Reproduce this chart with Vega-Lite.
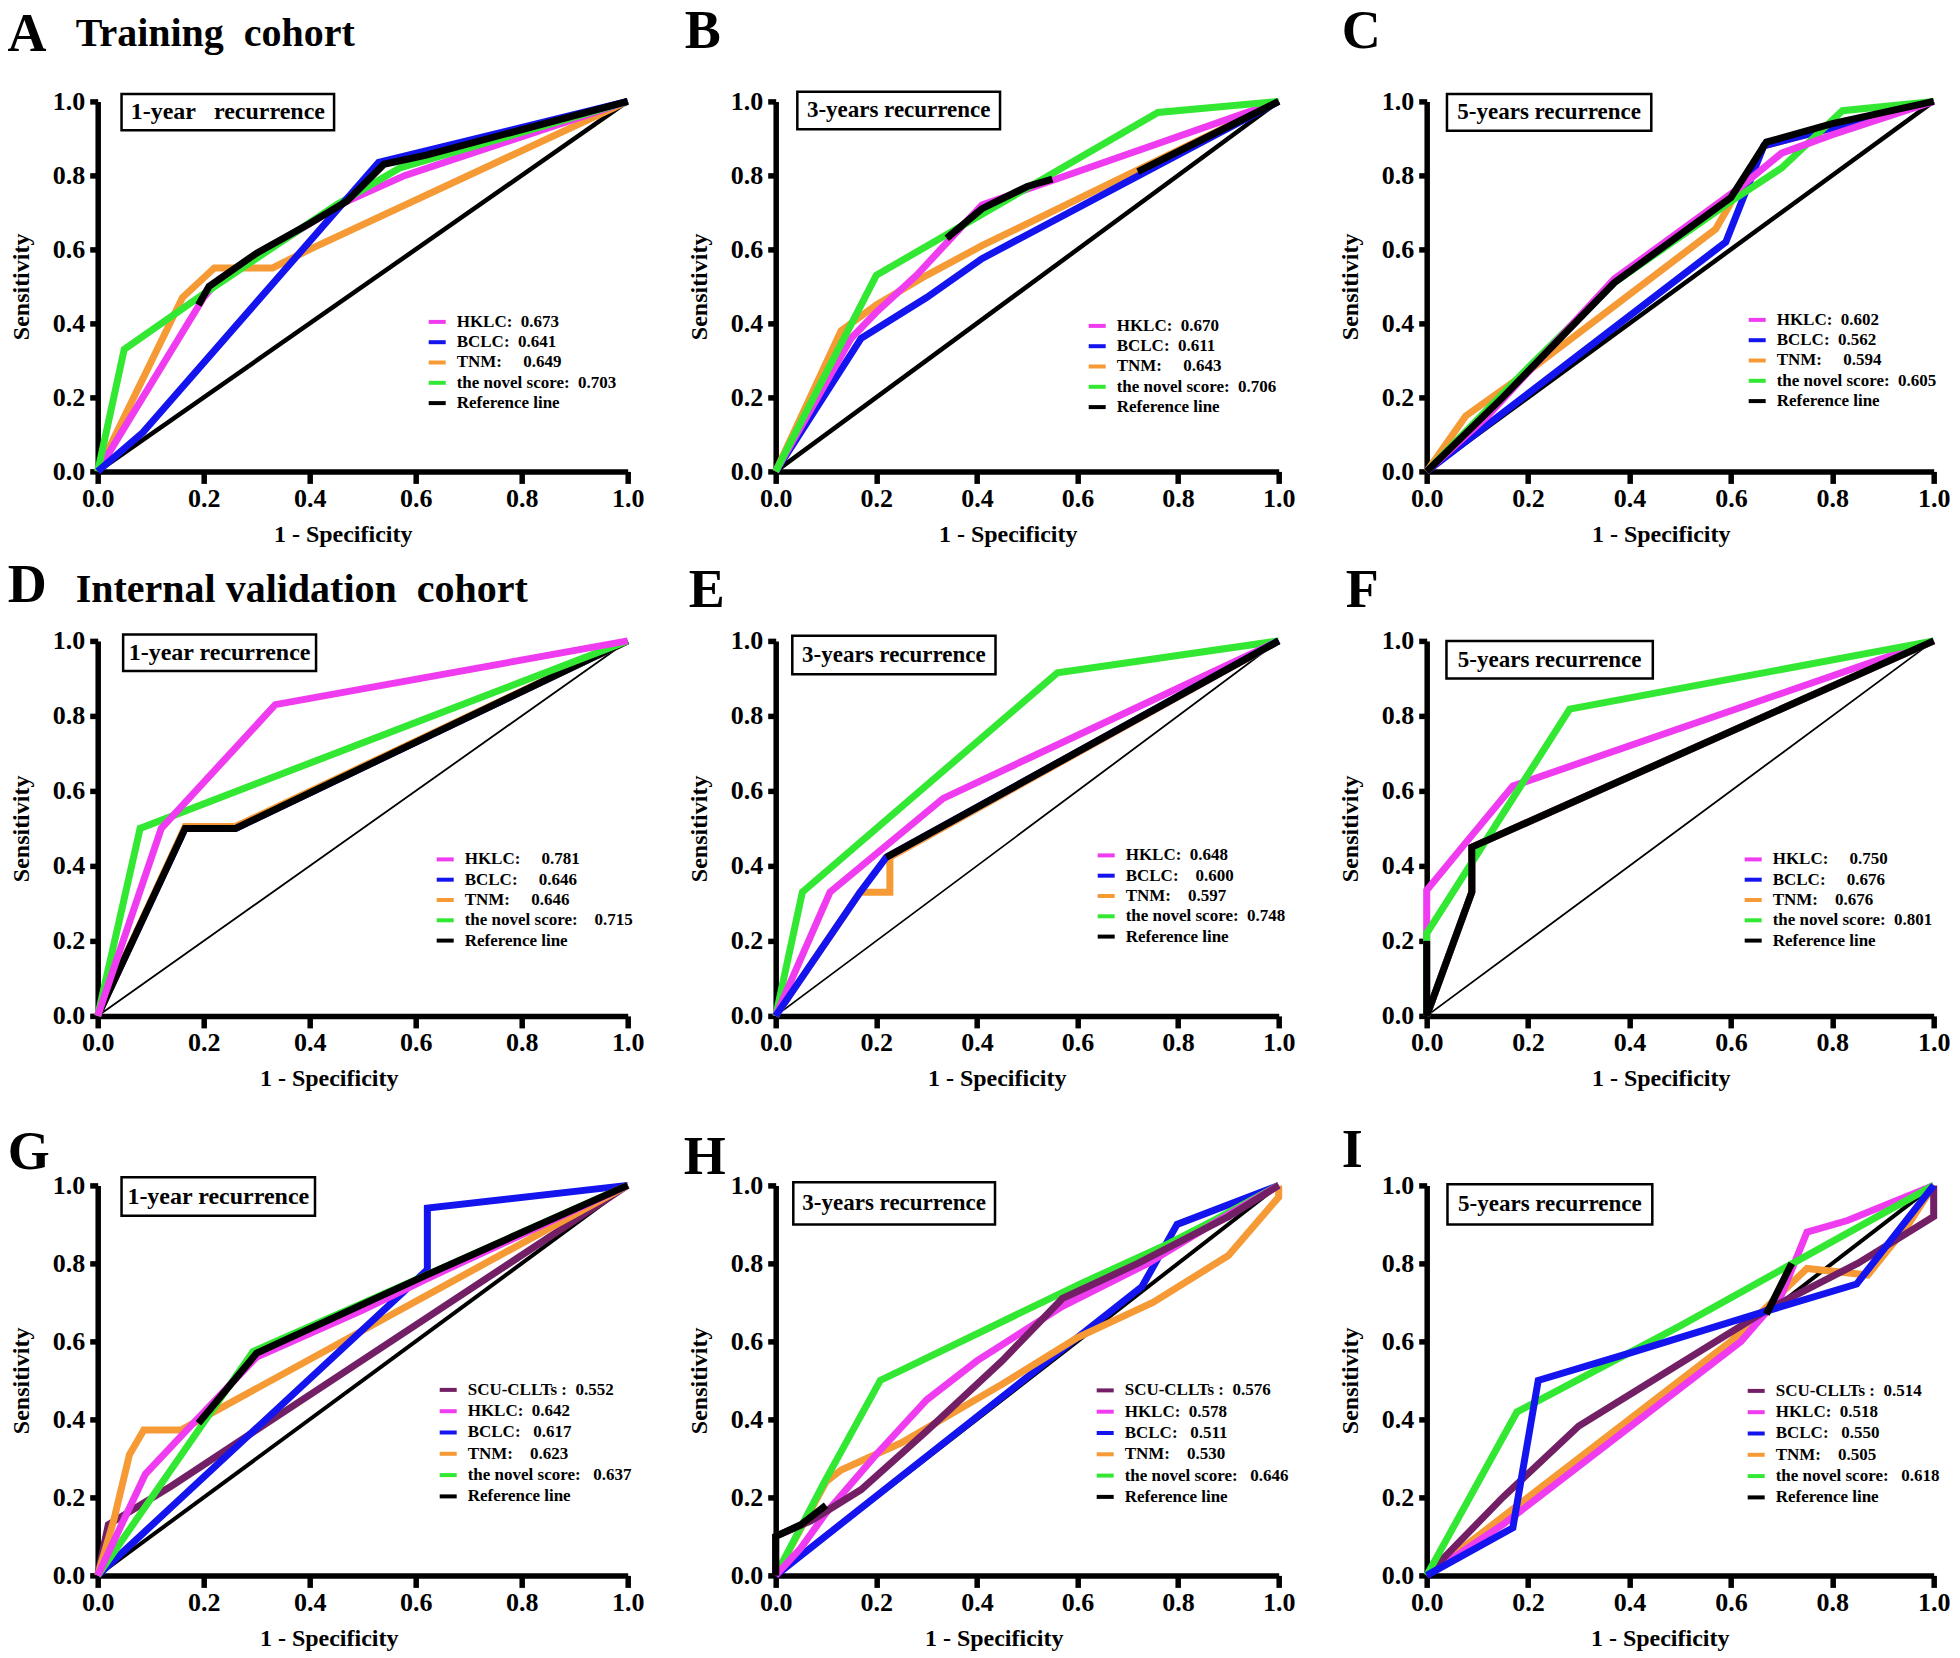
{
"$schema":"https://vega.github.io/schema/vega-lite/v6.json",
"background":"white",
"padding":{"left":6.7,"top":5.4,"right":2,"bottom":2},
"config":{
 "font":"Liberation Serif",
 "view":{"stroke":null},
 "axis":{"grid":false,"domainColor":"black","domainWidth":5.5,"tickColor":"black","tickWidth":5.5,"tickSize":12,"labelFont":"Liberation Serif","labelFontWeight":"bold","labelFontSize":26,"labelColor":"black","labelFlush":false,"labelOverlap":false,"titleFont":"Liberation Serif","titleFontWeight":"bold","titleFontSize":24,"titleColor":"black"},
 "axisX":{"labelPadding":2,"titlePadding":11},
 "axisY":{"tickSize":8,"labelPadding":5,"titlePadding":18.5},
 "legend":{"symbolType":"stroke","symbolStrokeWidth":4,"symbolSize":289,"labelFont":"Liberation Serif","labelFontWeight":"bold","labelFontSize":17,"labelColor":"black","labelLimit":500,"labelOffset":9,"padding":0,"rowPadding":1.3}
},
"data":{"values":[
{"p":"A","c":"T","x":0,"y":0},{"p":"A","c":"T","x":0.16,"y":0.47},{"p":"A","c":"T","x":0.22,"y":0.55},{"p":"A","c":"T","x":0.33,"y":0.55},{"p":"A","c":"T","x":0.4,"y":0.6},{"p":"A","c":"T","x":1,"y":1},
{"p":"A","c":"H","x":0,"y":0},{"p":"A","c":"H","x":0.2,"y":0.47},{"p":"A","c":"H","x":0.23,"y":0.52},{"p":"A","c":"H","x":0.3,"y":0.58},{"p":"A","c":"H","x":0.4,"y":0.67},{"p":"A","c":"H","x":0.47,"y":0.73},{"p":"A","c":"H","x":0.58,"y":0.8},{"p":"A","c":"H","x":1,"y":1},
{"p":"A","c":"N","x":0,"y":0},{"p":"A","c":"N","x":0.05,"y":0.33},{"p":"A","c":"N","x":0.2,"y":0.48},{"p":"A","c":"N","x":0.45,"y":0.72},{"p":"A","c":"N","x":0.57,"y":0.82},{"p":"A","c":"N","x":1,"y":1},
{"p":"A","c":"B","x":0,"y":0},{"p":"A","c":"B","x":0.085,"y":0.105},{"p":"A","c":"B","x":0.53,"y":0.835},{"p":"A","c":"B","x":1,"y":1},
{"p":"A","c":"R","k":"1","x":0.19,"y":0.45},{"p":"A","c":"R","k":"1","x":0.21,"y":0.5},{"p":"A","c":"R","k":"1","x":0.3,"y":0.59},{"p":"A","c":"R","k":"1","x":0.4,"y":0.67},{"p":"A","c":"R","k":"1","x":0.47,"y":0.73},{"p":"A","c":"R","k":"1","x":0.54,"y":0.83},{"p":"A","c":"R","k":"1","x":0.62,"y":0.855},{"p":"A","c":"R","k":"1","x":1,"y":1},
{"p":"A","c":"R","k":"D","x":0,"y":0},{"p":"A","c":"R","k":"D","x":1,"y":1},
{"p":"B","c":"T","x":0,"y":0},{"p":"B","c":"T","x":0.13,"y":0.38},{"p":"B","c":"T","x":0.2,"y":0.45},{"p":"B","c":"T","x":0.3,"y":0.53},{"p":"B","c":"T","x":0.41,"y":0.61},{"p":"B","c":"T","x":1,"y":1},
{"p":"B","c":"B","x":0,"y":0},{"p":"B","c":"B","x":0.17,"y":0.36},{"p":"B","c":"B","x":0.3,"y":0.47},{"p":"B","c":"B","x":0.41,"y":0.575},{"p":"B","c":"B","x":1,"y":1},
{"p":"B","c":"H","x":0,"y":0},{"p":"B","c":"H","x":0.15,"y":0.36},{"p":"B","c":"H","x":0.2,"y":0.43},{"p":"B","c":"H","x":0.28,"y":0.53},{"p":"B","c":"H","x":0.41,"y":0.72},{"p":"B","c":"H","x":1,"y":1},
{"p":"B","c":"N","x":0,"y":0},{"p":"B","c":"N","x":0.2,"y":0.53},{"p":"B","c":"N","x":0.76,"y":0.97},{"p":"B","c":"N","x":1,"y":1},
{"p":"B","c":"R","k":"1","x":0.34,"y":0.63},{"p":"B","c":"R","k":"1","x":0.41,"y":0.71},{"p":"B","c":"R","k":"1","x":0.5,"y":0.77},{"p":"B","c":"R","k":"1","x":0.55,"y":0.79},
{"p":"B","c":"R","k":"2","x":0.72,"y":0.81},{"p":"B","c":"R","k":"2","x":1,"y":1},
{"p":"B","c":"R","k":"D","x":0,"y":0},{"p":"B","c":"R","k":"D","x":1,"y":1},
{"p":"C","c":"T","x":0,"y":0},{"p":"C","c":"T","x":0.077,"y":0.15},{"p":"C","c":"T","x":0.2,"y":0.27},{"p":"C","c":"T","x":0.57,"y":0.655},{"p":"C","c":"T","x":0.665,"y":0.88},{"p":"C","c":"T","x":1,"y":1},
{"p":"C","c":"B","x":0,"y":0},{"p":"C","c":"B","x":0.59,"y":0.62},{"p":"C","c":"B","x":0.665,"y":0.88},{"p":"C","c":"B","x":1,"y":1},
{"p":"C","c":"N","x":0,"y":0},{"p":"C","c":"N","x":0.2,"y":0.28},{"p":"C","c":"N","x":0.37,"y":0.51},{"p":"C","c":"N","x":0.6,"y":0.73},{"p":"C","c":"N","x":0.7,"y":0.82},{"p":"C","c":"N","x":0.82,"y":0.975},{"p":"C","c":"N","x":1,"y":1},
{"p":"C","c":"H","x":0,"y":0},{"p":"C","c":"H","x":0.12,"y":0.15},{"p":"C","c":"H","x":0.37,"y":0.52},{"p":"C","c":"H","x":0.62,"y":0.77},{"p":"C","c":"H","x":0.7,"y":0.86},{"p":"C","c":"H","x":0.8,"y":0.91},{"p":"C","c":"H","x":1,"y":1},
{"p":"C","c":"R","k":"1","x":0,"y":0},{"p":"C","c":"R","k":"1","x":0.15,"y":0.2},{"p":"C","c":"R","k":"1","x":0.37,"y":0.51},{"p":"C","c":"R","k":"1","x":0.6,"y":0.74},{"p":"C","c":"R","k":"1","x":0.67,"y":0.89},{"p":"C","c":"R","k":"1","x":0.8,"y":0.94},{"p":"C","c":"R","k":"1","x":1,"y":1},
{"p":"C","c":"R","k":"D","x":0,"y":0},{"p":"C","c":"R","k":"D","x":1,"y":1},
{"p":"D","c":"B","x":0,"y":0},{"p":"D","c":"B","x":0.165,"y":0.5},{"p":"D","c":"B","x":0.26,"y":0.5},{"p":"D","c":"B","x":1,"y":1},
{"p":"D","c":"T","x":0,"y":0},{"p":"D","c":"T","x":0.165,"y":0.505},{"p":"D","c":"T","x":0.26,"y":0.505},{"p":"D","c":"T","x":1,"y":1},
{"p":"D","c":"R","k":"1","x":0,"y":0},{"p":"D","c":"R","k":"1","x":0.165,"y":0.5},{"p":"D","c":"R","k":"1","x":0.26,"y":0.5},{"p":"D","c":"R","k":"1","x":1,"y":1},
{"p":"D","c":"N","x":0,"y":0},{"p":"D","c":"N","x":0.08,"y":0.5},{"p":"D","c":"N","x":1,"y":1},
{"p":"D","c":"H","x":0,"y":0},{"p":"D","c":"H","x":0.12,"y":0.5},{"p":"D","c":"H","x":0.335,"y":0.83},{"p":"D","c":"H","x":1,"y":1},
{"p":"D","c":"R","k":"D","x":0,"y":0},{"p":"D","c":"R","k":"D","x":1,"y":1},
{"p":"E","c":"T","x":0,"y":0},{"p":"E","c":"T","x":0.168,"y":0.33},{"p":"E","c":"T","x":0.227,"y":0.33},{"p":"E","c":"T","x":0.227,"y":0.423},{"p":"E","c":"T","x":1,"y":1},
{"p":"E","c":"N","x":0,"y":0},{"p":"E","c":"N","x":0.053,"y":0.33},{"p":"E","c":"N","x":0.56,"y":0.915},{"p":"E","c":"N","x":1,"y":1},
{"p":"E","c":"H","x":0,"y":0},{"p":"E","c":"H","x":0.108,"y":0.33},{"p":"E","c":"H","x":0.333,"y":0.58},{"p":"E","c":"H","x":1,"y":1},
{"p":"E","c":"B","x":0,"y":0},{"p":"E","c":"B","x":0.168,"y":0.33},{"p":"E","c":"B","x":0.22,"y":0.423},{"p":"E","c":"B","x":1,"y":1},
{"p":"E","c":"R","k":"1","x":0.22,"y":0.423},{"p":"E","c":"R","k":"1","x":1,"y":1},
{"p":"E","c":"R","k":"D","x":0,"y":0},{"p":"E","c":"R","k":"D","x":1,"y":1},
{"p":"F","c":"B","x":0,"y":0},{"p":"F","c":"B","x":0.089,"y":0.33},{"p":"F","c":"B","x":0.089,"y":0.45},{"p":"F","c":"B","x":1,"y":1},
{"p":"F","c":"T","x":0,"y":0},{"p":"F","c":"T","x":0.089,"y":0.33},{"p":"F","c":"T","x":0.089,"y":0.45},{"p":"F","c":"T","x":1,"y":1},
{"p":"F","c":"H","x":0,"y":0},{"p":"F","c":"H","x":0,"y":0.335},{"p":"F","c":"H","x":0.076,"y":0.46},{"p":"F","c":"H","x":0.17,"y":0.613},{"p":"F","c":"H","x":1,"y":1},
{"p":"F","c":"N","x":0,"y":0},{"p":"F","c":"N","x":0,"y":0.22},{"p":"F","c":"N","x":0.282,"y":0.818},{"p":"F","c":"N","x":1,"y":1},
{"p":"F","c":"R","k":"1","x":0,"y":0},{"p":"F","c":"R","k":"1","x":0.089,"y":0.33},{"p":"F","c":"R","k":"1","x":0.089,"y":0.45},{"p":"F","c":"R","k":"1","x":1,"y":1},
{"p":"F","c":"R","k":"2","x":0,"y":0},{"p":"F","c":"R","k":"2","x":0,"y":0.2},
{"p":"F","c":"R","k":"D","x":0,"y":0},{"p":"F","c":"R","k":"D","x":1,"y":1},
{"p":"G","c":"S","x":0,"y":0},{"p":"G","c":"S","x":0.02,"y":0.13},{"p":"G","c":"S","x":0.14,"y":0.23},{"p":"G","c":"S","x":1,"y":1},
{"p":"G","c":"T","x":0,"y":0},{"p":"G","c":"T","x":0.03,"y":0.14},{"p":"G","c":"T","x":0.06,"y":0.31},{"p":"G","c":"T","x":0.087,"y":0.373},{"p":"G","c":"T","x":0.158,"y":0.373},{"p":"G","c":"T","x":0.22,"y":0.42},{"p":"G","c":"T","x":1,"y":1},
{"p":"G","c":"B","x":0,"y":0},{"p":"G","c":"B","x":0.622,"y":0.784},{"p":"G","c":"B","x":0.622,"y":0.942},{"p":"G","c":"B","x":1,"y":1},
{"p":"G","c":"N","x":0,"y":0},{"p":"G","c":"N","x":0.293,"y":0.574},{"p":"G","c":"N","x":0.62,"y":0.77},{"p":"G","c":"N","x":1,"y":1},
{"p":"G","c":"H","x":0,"y":0},{"p":"G","c":"H","x":0.09,"y":0.26},{"p":"G","c":"H","x":0.18,"y":0.39},{"p":"G","c":"H","x":0.3,"y":0.56},{"p":"G","c":"H","x":0.5,"y":0.68},{"p":"G","c":"H","x":0.62,"y":0.76},{"p":"G","c":"H","x":1,"y":1},
{"p":"G","c":"R","k":"1","x":0.19,"y":0.39},{"p":"G","c":"R","k":"1","x":0.3,"y":0.57},{"p":"G","c":"R","k":"1","x":0.62,"y":0.77},{"p":"G","c":"R","k":"1","x":1,"y":1},
{"p":"G","c":"R","k":"D","x":0,"y":0},{"p":"G","c":"R","k":"D","x":1,"y":1},
{"p":"H","c":"B","x":0,"y":0},{"p":"H","c":"B","x":0.728,"y":0.74},{"p":"H","c":"B","x":0.798,"y":0.9},{"p":"H","c":"B","x":1,"y":1},
{"p":"H","c":"T","x":0,"y":0},{"p":"H","c":"T","x":0.1,"y":0.24},{"p":"H","c":"T","x":0.13,"y":0.27},{"p":"H","c":"T","x":0.25,"y":0.34},{"p":"H","c":"T","x":0.45,"y":0.49},{"p":"H","c":"T","x":0.6,"y":0.61},{"p":"H","c":"T","x":0.75,"y":0.7},{"p":"H","c":"T","x":0.9,"y":0.82},{"p":"H","c":"T","x":1,"y":0.97},{"p":"H","c":"T","x":1,"y":1},
{"p":"H","c":"N","x":0,"y":0},{"p":"H","c":"N","x":0.097,"y":0.24},{"p":"H","c":"N","x":0.208,"y":0.5},{"p":"H","c":"N","x":0.61,"y":0.75},{"p":"H","c":"N","x":0.78,"y":0.85},{"p":"H","c":"N","x":0.87,"y":0.91},{"p":"H","c":"N","x":1,"y":1},
{"p":"H","c":"H","x":0,"y":0},{"p":"H","c":"H","x":0.05,"y":0.07},{"p":"H","c":"H","x":0.1,"y":0.16},{"p":"H","c":"H","x":0.2,"y":0.31},{"p":"H","c":"H","x":0.3,"y":0.45},{"p":"H","c":"H","x":0.4,"y":0.55},{"p":"H","c":"H","x":0.57,"y":0.69},{"p":"H","c":"H","x":0.74,"y":0.8},{"p":"H","c":"H","x":0.88,"y":0.91},{"p":"H","c":"H","x":1,"y":1},
{"p":"H","c":"S","x":0,"y":0},{"p":"H","c":"S","x":0,"y":0.1},{"p":"H","c":"S","x":0.07,"y":0.14},{"p":"H","c":"S","x":0.17,"y":0.22},{"p":"H","c":"S","x":0.3,"y":0.37},{"p":"H","c":"S","x":0.45,"y":0.55},{"p":"H","c":"S","x":0.57,"y":0.71},{"p":"H","c":"S","x":0.72,"y":0.8},{"p":"H","c":"S","x":0.9,"y":0.92},{"p":"H","c":"S","x":1,"y":1},
{"p":"H","c":"R","k":"1","x":0,"y":0},{"p":"H","c":"R","k":"1","x":0,"y":0.1},{"p":"H","c":"R","k":"1","x":0.05,"y":0.13},{"p":"H","c":"R","k":"1","x":0.1,"y":0.18},
{"p":"H","c":"R","k":"D","x":0,"y":0},{"p":"H","c":"R","k":"D","x":1,"y":1},
{"p":"I","c":"T","x":0,"y":0},{"p":"I","c":"T","x":0.6,"y":0.6},{"p":"I","c":"T","x":0.75,"y":0.787},{"p":"I","c":"T","x":0.87,"y":0.77},{"p":"I","c":"T","x":0.95,"y":0.9},{"p":"I","c":"T","x":1,"y":1},
{"p":"I","c":"H","x":0,"y":0},{"p":"I","c":"H","x":0.15,"y":0.13},{"p":"I","c":"H","x":0.62,"y":0.6},{"p":"I","c":"H","x":0.7,"y":0.72},{"p":"I","c":"H","x":0.75,"y":0.88},{"p":"I","c":"H","x":0.83,"y":0.91},{"p":"I","c":"H","x":1,"y":1},
{"p":"I","c":"S","x":0,"y":0},{"p":"I","c":"S","x":0.15,"y":0.2},{"p":"I","c":"S","x":0.3,"y":0.383},{"p":"I","c":"S","x":0.67,"y":0.68},{"p":"I","c":"S","x":0.85,"y":0.8},{"p":"I","c":"S","x":0.95,"y":0.88},{"p":"I","c":"S","x":1,"y":0.92},{"p":"I","c":"S","x":1,"y":1},
{"p":"I","c":"N","x":0,"y":0},{"p":"I","c":"N","x":0.178,"y":0.419},{"p":"I","c":"N","x":0.5,"y":0.64},{"p":"I","c":"N","x":1,"y":1},
{"p":"I","c":"B","x":0,"y":0},{"p":"I","c":"B","x":0.17,"y":0.122},{"p":"I","c":"B","x":0.22,"y":0.5},{"p":"I","c":"B","x":0.4,"y":0.57},{"p":"I","c":"B","x":0.65,"y":0.67},{"p":"I","c":"B","x":0.848,"y":0.747},{"p":"I","c":"B","x":1,"y":1},
{"p":"I","c":"R","k":"1","x":0.67,"y":0.67},{"p":"I","c":"R","k":"1","x":0.72,"y":0.8},
{"p":"I","c":"R","k":"D","x":0,"y":0},{"p":"I","c":"R","k":"D","x":1,"y":1}
]},
"columns":3,
"align":"each",
"bounds":"flush",
"spacing":{"row":169.5,"column":148},
"resolve":{"scale":{"color":"independent"},"legend":{"color":"independent"}},
"concat":[
 {"width":530,"height":370,
  "layer":[
   {"transform":[{"filter":"datum.p=='A'&&datum.k=='D'"}],"mark":{"type":"line","color":"black","strokeWidth":4.5},"encoding":{"x":{"field":"x","type":"quantitative","scale":{"domain":[0,1],"nice":false,"zero":false},"axis":{"title":"1 - Specificity","titleX":245,"values":[0,0.2,0.4,0.6,0.8,1],"format":".1f"}},"y":{"field":"y","type":"quantitative","scale":{"domain":[0,1],"nice":false,"zero":false},"axis":{"title":"Sensitivity","values":[0,0.2,0.4,0.6,0.8,1],"format":".1f"}},"order":{"value":null}}},
   {"transform":[{"filter":"datum.p=='A'&&datum.k!='D'"}],"mark":{"type":"line","strokeWidth":7},"encoding":{"x":{"field":"x","type":"quantitative"},"y":{"field":"y","type":"quantitative"},"color":{"field":"c","type":"nominal","scale":{"domain":["H","B","T","N","R"],"range":["#f03cf0","#1414ee","#f59a35","#33e833","#000000"]},"legend":{"orient":"none","legendX":329,"legendY":210,"title":null,"labelExpr":"datum.label=='H'?'HKLC:\u00a0 0.673':datum.label=='B'?'BCLC:\u00a0 0.641':datum.label=='T'?'TNM:\u00a0\u00a0\u00a0\u00a0 0.649':datum.label=='N'?'the novel score:\u00a0 0.703':'Reference line'"}},"detail":{"field":"k","type":"nominal"},"order":{"value":null}}},
   {"data":{"values":[{"t":""}]},"mark":{"type":"rect","fill":"white","stroke":"black","strokeWidth":2.5},"encoding":{"x":{"datum":0.045,"type":"quantitative"},"x2":{"datum":0.446},"y":{"datum":0.922,"type":"quantitative"},"y2":{"datum":1.02}}},
   {"data":{"values":[{"t":"1-year\u00a0\u00a0 recurrence"}]},"mark":{"type":"text","fontSize":24,"fontWeight":"bold"},"encoding":{"x":{"datum":0.2455,"type":"quantitative"},"y":{"datum":0.971,"type":"quantitative"},"text":{"field":"t"}}},
   {"data":{"values":[{"t":"A"}]},"mark":{"type":"text","align":"left","baseline":"alphabetic","fontSize":54,"fontWeight":"bold"},"encoding":{"x":{"datum":-0.1704,"type":"quantitative"},"y":{"datum":1.136,"type":"quantitative"},"text":{"field":"t"}}},
   {"data":{"values":[{"t":"Training\u00a0 cohort"}]},"mark":{"type":"text","align":"left","baseline":"alphabetic","fontSize":40,"fontWeight":"bold"},"encoding":{"x":{"datum":-0.0415,"type":"quantitative"},"y":{"datum":1.1495,"type":"quantitative"},"text":{"field":"t"}}}
  ]},
 {"width":503,"height":370,
  "layer":[
   {"transform":[{"filter":"datum.p=='B'&&datum.k=='D'"}],"mark":{"type":"line","color":"black","strokeWidth":4.5},"encoding":{"x":{"field":"x","type":"quantitative","scale":{"domain":[0,1],"nice":false,"zero":false},"axis":{"title":"1 - Specificity","titleX":232,"values":[0,0.2,0.4,0.6,0.8,1],"format":".1f"}},"y":{"field":"y","type":"quantitative","scale":{"domain":[0,1],"nice":false,"zero":false},"axis":{"title":"Sensitivity","values":[0,0.2,0.4,0.6,0.8,1],"format":".1f"}},"order":{"value":null}}},
   {"transform":[{"filter":"datum.p=='B'&&datum.k!='D'"}],"mark":{"type":"line","strokeWidth":7},"encoding":{"x":{"field":"x","type":"quantitative"},"y":{"field":"y","type":"quantitative"},"color":{"field":"c","type":"nominal","scale":{"domain":["H","B","T","N","R"],"range":["#f03cf0","#1414ee","#f59a35","#33e833","#000000"]},"legend":{"orient":"none","legendX":311,"legendY":214,"title":null,"labelExpr":"datum.label=='H'?'HKLC:\u00a0 0.670':datum.label=='B'?'BCLC:\u00a0 0.611':datum.label=='T'?'TNM:\u00a0\u00a0\u00a0\u00a0 0.643':datum.label=='N'?'the novel score:\u00a0 0.706':'Reference line'"}},"detail":{"field":"k","type":"nominal"},"order":{"value":null}}},
   {"data":{"values":[{"t":""}]},"mark":{"type":"rect","fill":"white","stroke":"black","strokeWidth":2.5},"encoding":{"x":{"datum":0.043,"type":"quantitative"},"x2":{"datum":0.446},"y":{"datum":0.925,"type":"quantitative"},"y2":{"datum":1.026}}},
   {"data":{"values":[{"t":"3-years recurrence"}]},"mark":{"type":"text","fontSize":23,"fontWeight":"bold"},"encoding":{"x":{"datum":0.2445,"type":"quantitative"},"y":{"datum":0.9755,"type":"quantitative"},"text":{"field":"t"}}},
   {"data":{"values":[{"t":"B"}]},"mark":{"type":"text","align":"left","baseline":"alphabetic","fontSize":54,"fontWeight":"bold"},"encoding":{"x":{"datum":-0.1809,"type":"quantitative"},"y":{"datum":1.1432,"type":"quantitative"},"text":{"field":"t"}}}
  ]},
 {"width":507,"height":370,
  "layer":[
   {"transform":[{"filter":"datum.p=='C'&&datum.k=='D'"}],"mark":{"type":"line","color":"black","strokeWidth":4.5},"encoding":{"x":{"field":"x","type":"quantitative","scale":{"domain":[0,1],"nice":false,"zero":false},"axis":{"title":"1 - Specificity","titleX":234,"values":[0,0.2,0.4,0.6,0.8,1],"format":".1f"}},"y":{"field":"y","type":"quantitative","scale":{"domain":[0,1],"nice":false,"zero":false},"axis":{"title":"Sensitivity","values":[0,0.2,0.4,0.6,0.8,1],"format":".1f"}},"order":{"value":null}}},
   {"transform":[{"filter":"datum.p=='C'&&datum.k!='D'"}],"mark":{"type":"line","strokeWidth":7},"encoding":{"x":{"field":"x","type":"quantitative"},"y":{"field":"y","type":"quantitative"},"color":{"field":"c","type":"nominal","scale":{"domain":["H","B","T","N","R"],"range":["#f03cf0","#1414ee","#f59a35","#33e833","#000000"]},"legend":{"orient":"none","legendX":320,"legendY":208,"title":null,"labelExpr":"datum.label=='H'?'HKLC:\u00a0 0.602':datum.label=='B'?'BCLC:\u00a0 0.562':datum.label=='T'?'TNM:\u00a0\u00a0\u00a0\u00a0 0.594':datum.label=='N'?'the novel score:\u00a0 0.605':'Reference line'"}},"detail":{"field":"k","type":"nominal"},"order":{"value":null}}},
   {"data":{"values":[{"t":""}]},"mark":{"type":"rect","fill":"white","stroke":"black","strokeWidth":2.5},"encoding":{"x":{"datum":0.04,"type":"quantitative"},"x2":{"datum":0.443},"y":{"datum":0.921,"type":"quantitative"},"y2":{"datum":1.02}}},
   {"data":{"values":[{"t":"5-years recurrence"}]},"mark":{"type":"text","fontSize":23,"fontWeight":"bold"},"encoding":{"x":{"datum":0.2415,"type":"quantitative"},"y":{"datum":0.9705,"type":"quantitative"},"text":{"field":"t"}}},
   {"data":{"values":[{"t":"C"}]},"mark":{"type":"text","align":"left","baseline":"alphabetic","fontSize":54,"fontWeight":"bold"},"encoding":{"x":{"datum":-0.1677,"type":"quantitative"},"y":{"datum":1.1432,"type":"quantitative"},"text":{"field":"t"}}}
  ]},
 {"width":530,"height":375,
  "layer":[
   {"transform":[{"filter":"datum.p=='D'&&datum.k=='D'"}],"mark":{"type":"line","color":"black","strokeWidth":1.8},"encoding":{"x":{"field":"x","type":"quantitative","scale":{"domain":[0,1],"nice":false,"zero":false},"axis":{"title":"1 - Specificity","titleX":231,"values":[0,0.2,0.4,0.6,0.8,1],"format":".1f"}},"y":{"field":"y","type":"quantitative","scale":{"domain":[0,1],"nice":false,"zero":false},"axis":{"title":"Sensitivity","values":[0,0.2,0.4,0.6,0.8,1],"format":".1f"}},"order":{"value":null}}},
   {"transform":[{"filter":"datum.p=='D'&&datum.k!='D'"}],"mark":{"type":"line","strokeWidth":7},"encoding":{"x":{"field":"x","type":"quantitative"},"y":{"field":"y","type":"quantitative"},"color":{"field":"c","type":"nominal","scale":{"domain":["H","B","T","N","R"],"range":["#f03cf0","#1414ee","#f59a35","#33e833","#000000"]},"legend":{"orient":"none","legendX":337,"legendY":208,"title":null,"labelExpr":"datum.label=='H'?'HKLC:\u00a0\u00a0\u00a0\u00a0 0.781':datum.label=='B'?'BCLC:\u00a0\u00a0\u00a0\u00a0 0.646':datum.label=='T'?'TNM:\u00a0\u00a0\u00a0\u00a0 0.646':datum.label=='N'?'the novel score:\u00a0\u00a0\u00a0 0.715':'Reference line'"}},"detail":{"field":"k","type":"nominal"},"order":{"value":null}}},
   {"data":{"values":[{"t":""}]},"mark":{"type":"rect","fill":"white","stroke":"black","strokeWidth":2.5},"encoding":{"x":{"datum":0.048,"type":"quantitative"},"x2":{"datum":0.412},"y":{"datum":0.92,"type":"quantitative"},"y2":{"datum":1.017}}},
   {"data":{"values":[{"t":"1-year recurrence"}]},"mark":{"type":"text","fontSize":24,"fontWeight":"bold"},"encoding":{"x":{"datum":0.23,"type":"quantitative"},"y":{"datum":0.9685,"type":"quantitative"},"text":{"field":"t"}}},
   {"data":{"values":[{"t":"D"}]},"mark":{"type":"text","align":"left","baseline":"alphabetic","fontSize":54,"fontWeight":"bold"},"encoding":{"x":{"datum":-0.1698,"type":"quantitative"},"y":{"datum":1.1027,"type":"quantitative"},"text":{"field":"t"}}},
   {"data":{"values":[{"t":"Internal validation\u00a0 cohort"}]},"mark":{"type":"text","align":"left","baseline":"alphabetic","fontSize":40,"fontWeight":"bold"},"encoding":{"x":{"datum":-0.0415,"type":"quantitative"},"y":{"datum":1.1027,"type":"quantitative"},"text":{"field":"t"}}}
  ]},
 {"width":503,"height":375,
  "layer":[
   {"transform":[{"filter":"datum.p=='E'&&datum.k=='D'"}],"mark":{"type":"line","color":"black","strokeWidth":1.8},"encoding":{"x":{"field":"x","type":"quantitative","scale":{"domain":[0,1],"nice":false,"zero":false},"axis":{"title":"1 - Specificity","titleX":221,"values":[0,0.2,0.4,0.6,0.8,1],"format":".1f"}},"y":{"field":"y","type":"quantitative","scale":{"domain":[0,1],"nice":false,"zero":false},"axis":{"title":"Sensitivity","values":[0,0.2,0.4,0.6,0.8,1],"format":".1f"}},"order":{"value":null}}},
   {"transform":[{"filter":"datum.p=='E'&&datum.k!='D'"}],"mark":{"type":"line","strokeWidth":7},"encoding":{"x":{"field":"x","type":"quantitative"},"y":{"field":"y","type":"quantitative"},"color":{"field":"c","type":"nominal","scale":{"domain":["H","B","T","N","R"],"range":["#f03cf0","#1414ee","#f59a35","#33e833","#000000"]},"legend":{"orient":"none","legendX":320,"legendY":204,"title":null,"labelExpr":"datum.label=='H'?'HKLC:\u00a0 0.648':datum.label=='B'?'BCLC:\u00a0\u00a0\u00a0 0.600':datum.label=='T'?'TNM:\u00a0\u00a0\u00a0 0.597':datum.label=='N'?'the novel score:\u00a0 0.748':'Reference line'"}},"detail":{"field":"k","type":"nominal"},"order":{"value":null}}},
   {"data":{"values":[{"t":""}]},"mark":{"type":"rect","fill":"white","stroke":"black","strokeWidth":2.5},"encoding":{"x":{"datum":0.033,"type":"quantitative"},"x2":{"datum":0.437},"y":{"datum":0.911,"type":"quantitative"},"y2":{"datum":1.014}}},
   {"data":{"values":[{"t":"3-years recurrence"}]},"mark":{"type":"text","fontSize":23,"fontWeight":"bold"},"encoding":{"x":{"datum":0.235,"type":"quantitative"},"y":{"datum":0.9625,"type":"quantitative"},"text":{"field":"t"}}},
   {"data":{"values":[{"t":"E"}]},"mark":{"type":"text","align":"left","baseline":"alphabetic","fontSize":54,"fontWeight":"bold"},"encoding":{"x":{"datum":-0.173,"type":"quantitative"},"y":{"datum":1.0893,"type":"quantitative"},"text":{"field":"t"}}}
  ]},
 {"width":507,"height":375,
  "layer":[
   {"transform":[{"filter":"datum.p=='F'&&datum.k=='D'"}],"mark":{"type":"line","color":"black","strokeWidth":1.8},"encoding":{"x":{"field":"x","type":"quantitative","scale":{"domain":[0,1],"nice":false,"zero":false},"axis":{"title":"1 - Specificity","titleX":234,"values":[0,0.2,0.4,0.6,0.8,1],"format":".1f"}},"y":{"field":"y","type":"quantitative","scale":{"domain":[0,1],"nice":false,"zero":false},"axis":{"title":"Sensitivity","values":[0,0.2,0.4,0.6,0.8,1],"format":".1f"}},"order":{"value":null}}},
   {"transform":[{"filter":"datum.p=='F'&&datum.k!='D'"}],"mark":{"type":"line","strokeWidth":7},"encoding":{"x":{"field":"x","type":"quantitative"},"y":{"field":"y","type":"quantitative"},"color":{"field":"c","type":"nominal","scale":{"domain":["H","B","T","N","R"],"range":["#f03cf0","#1414ee","#f59a35","#33e833","#000000"]},"legend":{"orient":"none","legendX":316,"legendY":208,"title":null,"labelExpr":"datum.label=='H'?'HKLC:\u00a0\u00a0\u00a0\u00a0 0.750':datum.label=='B'?'BCLC:\u00a0\u00a0\u00a0\u00a0 0.676':datum.label=='T'?'TNM:\u00a0\u00a0\u00a0 0.676':datum.label=='N'?'the novel score:\u00a0 0.801':'Reference line'"}},"detail":{"field":"k","type":"nominal"},"order":{"value":null}}},
   {"data":{"values":[{"t":""}]},"mark":{"type":"rect","fill":"white","stroke":"black","strokeWidth":2.5},"encoding":{"x":{"datum":0.039,"type":"quantitative"},"x2":{"datum":0.446},"y":{"datum":0.9,"type":"quantitative"},"y2":{"datum":1.0}}},
   {"data":{"values":[{"t":"5-years recurrence"}]},"mark":{"type":"text","fontSize":23,"fontWeight":"bold"},"encoding":{"x":{"datum":0.2425,"type":"quantitative"},"y":{"datum":0.95,"type":"quantitative"},"text":{"field":"t"}}},
   {"data":{"values":[{"t":"F"}]},"mark":{"type":"text","align":"left","baseline":"alphabetic","fontSize":54,"fontWeight":"bold"},"encoding":{"x":{"datum":-0.1598,"type":"quantitative"},"y":{"datum":1.0893,"type":"quantitative"},"text":{"field":"t"}}}
  ]},
 {"width":530,"height":390,
  "layer":[
   {"transform":[{"filter":"datum.p=='G'&&datum.k=='D'"}],"mark":{"type":"line","color":"black","strokeWidth":4},"encoding":{"x":{"field":"x","type":"quantitative","scale":{"domain":[0,1],"nice":false,"zero":false},"axis":{"title":"1 - Specificity","titleX":231,"values":[0,0.2,0.4,0.6,0.8,1],"format":".1f"}},"y":{"field":"y","type":"quantitative","scale":{"domain":[0,1],"nice":false,"zero":false},"axis":{"title":"Sensitivity","values":[0,0.2,0.4,0.6,0.8,1],"format":".1f"}},"order":{"value":null}}},
   {"transform":[{"filter":"datum.p=='G'&&datum.k!='D'"}],"mark":{"type":"line","strokeWidth":7},"encoding":{"x":{"field":"x","type":"quantitative"},"y":{"field":"y","type":"quantitative"},"color":{"field":"c","type":"nominal","scale":{"domain":["S","H","B","T","N","R"],"range":["#731f66","#f03cf0","#1414ee","#f59a35","#33e833","#000000"]},"legend":{"orient":"none","legendX":340,"legendY":194,"rowPadding":2.3,"title":null,"labelExpr":"datum.label=='S'?'SCU-CLLTs :\u00a0 0.552':datum.label=='H'?'HKLC:\u00a0 0.642':datum.label=='B'?'BCLC:\u00a0\u00a0 0.617':datum.label=='T'?'TNM:\u00a0\u00a0\u00a0 0.623':datum.label=='N'?'the novel score:\u00a0\u00a0 0.637':'Reference line'"}},"detail":{"field":"k","type":"nominal"},"order":{"value":null}}},
   {"data":{"values":[{"t":""}]},"mark":{"type":"rect","fill":"white","stroke":"black","strokeWidth":2.5},"encoding":{"x":{"datum":0.045,"type":"quantitative"},"x2":{"datum":0.41},"y":{"datum":0.922,"type":"quantitative"},"y2":{"datum":1.021}}},
   {"data":{"values":[{"t":"1-year recurrence"}]},"mark":{"type":"text","fontSize":24,"fontWeight":"bold"},"encoding":{"x":{"datum":0.2275,"type":"quantitative"},"y":{"datum":0.9715,"type":"quantitative"},"text":{"field":"t"}}},
   {"data":{"values":[{"t":"G"}]},"mark":{"type":"text","align":"left","baseline":"alphabetic","fontSize":54,"fontWeight":"bold"},"encoding":{"x":{"datum":-0.1698,"type":"quantitative"},"y":{"datum":1.041,"type":"quantitative"},"text":{"field":"t"}}}
  ]},
 {"width":503,"height":390,
  "layer":[
   {"transform":[{"filter":"datum.p=='H'&&datum.k=='D'"}],"mark":{"type":"line","color":"black","strokeWidth":4},"encoding":{"x":{"field":"x","type":"quantitative","scale":{"domain":[0,1],"nice":false,"zero":false},"axis":{"title":"1 - Specificity","titleX":218,"values":[0,0.2,0.4,0.6,0.8,1],"format":".1f"}},"y":{"field":"y","type":"quantitative","scale":{"domain":[0,1],"nice":false,"zero":false},"axis":{"title":"Sensitivity","values":[0,0.2,0.4,0.6,0.8,1],"format":".1f"}},"order":{"value":null}}},
   {"transform":[{"filter":"datum.p=='H'&&datum.k!='D'"}],"mark":{"type":"line","strokeWidth":7},"encoding":{"x":{"field":"x","type":"quantitative"},"y":{"field":"y","type":"quantitative"},"color":{"field":"c","type":"nominal","scale":{"domain":["S","H","B","T","N","R"],"range":["#731f66","#f03cf0","#1414ee","#f59a35","#33e833","#000000"]},"legend":{"orient":"none","legendX":319,"legendY":194.5,"rowPadding":2.3,"title":null,"labelExpr":"datum.label=='S'?'SCU-CLLTs :\u00a0 0.576':datum.label=='H'?'HKLC:\u00a0 0.578':datum.label=='B'?'BCLC:\u00a0\u00a0 0.511':datum.label=='T'?'TNM:\u00a0\u00a0\u00a0 0.530':datum.label=='N'?'the novel score:\u00a0\u00a0 0.646':'Reference line'"}},"detail":{"field":"k","type":"nominal"},"order":{"value":null}}},
   {"data":{"values":[{"t":""}]},"mark":{"type":"rect","fill":"white","stroke":"black","strokeWidth":2.5},"encoding":{"x":{"datum":0.035,"type":"quantitative"},"x2":{"datum":0.436},"y":{"datum":0.9,"type":"quantitative"},"y2":{"datum":1.008}}},
   {"data":{"values":[{"t":"3-years recurrence"}]},"mark":{"type":"text","fontSize":23,"fontWeight":"bold"},"encoding":{"x":{"datum":0.2355,"type":"quantitative"},"y":{"datum":0.954,"type":"quantitative"},"text":{"field":"t"}}},
   {"data":{"values":[{"t":"H"}]},"mark":{"type":"text","align":"left","baseline":"alphabetic","fontSize":54,"fontWeight":"bold"},"encoding":{"x":{"datum":-0.1829,"type":"quantitative"},"y":{"datum":1.0282,"type":"quantitative"},"text":{"field":"t"}}}
  ]},
 {"width":507,"height":390,
  "layer":[
   {"transform":[{"filter":"datum.p=='I'&&datum.k=='D'"}],"mark":{"type":"line","color":"black","strokeWidth":4},"encoding":{"x":{"field":"x","type":"quantitative","scale":{"domain":[0,1],"nice":false,"zero":false},"axis":{"title":"1 - Specificity","titleX":233,"values":[0,0.2,0.4,0.6,0.8,1],"format":".1f"}},"y":{"field":"y","type":"quantitative","scale":{"domain":[0,1],"nice":false,"zero":false},"axis":{"title":"Sensitivity","values":[0,0.2,0.4,0.6,0.8,1],"format":".1f"}},"order":{"value":null}}},
   {"transform":[{"filter":"datum.p=='I'&&datum.k!='D'"}],"mark":{"type":"line","strokeWidth":7},"encoding":{"x":{"field":"x","type":"quantitative"},"y":{"field":"y","type":"quantitative"},"color":{"field":"c","type":"nominal","scale":{"domain":["S","H","B","T","N","R"],"range":["#731f66","#f03cf0","#1414ee","#f59a35","#33e833","#000000"]},"legend":{"orient":"none","legendX":319,"legendY":195,"rowPadding":2.3,"title":null,"labelExpr":"datum.label=='S'?'SCU-CLLTs :\u00a0 0.514':datum.label=='H'?'HKLC:\u00a0 0.518':datum.label=='B'?'BCLC:\u00a0\u00a0 0.550':datum.label=='T'?'TNM:\u00a0\u00a0\u00a0 0.505':datum.label=='N'?'the novel score:\u00a0\u00a0 0.618':'Reference line'"}},"detail":{"field":"k","type":"nominal"},"order":{"value":null}}},
   {"data":{"values":[{"t":""}]},"mark":{"type":"rect","fill":"white","stroke":"black","strokeWidth":2.5},"encoding":{"x":{"datum":0.041,"type":"quantitative"},"x2":{"datum":0.445},"y":{"datum":0.9,"type":"quantitative"},"y2":{"datum":1.003}}},
   {"data":{"values":[{"t":"5-years recurrence"}]},"mark":{"type":"text","fontSize":23,"fontWeight":"bold"},"encoding":{"x":{"datum":0.243,"type":"quantitative"},"y":{"datum":0.9515,"type":"quantitative"},"text":{"field":"t"}}},
   {"data":{"values":[{"t":"I"}]},"mark":{"type":"text","align":"left","baseline":"alphabetic","fontSize":54,"fontWeight":"bold"},"encoding":{"x":{"datum":-0.1677,"type":"quantitative"},"y":{"datum":1.0462,"type":"quantitative"},"text":{"field":"t"}}}
  ]}
]
}
